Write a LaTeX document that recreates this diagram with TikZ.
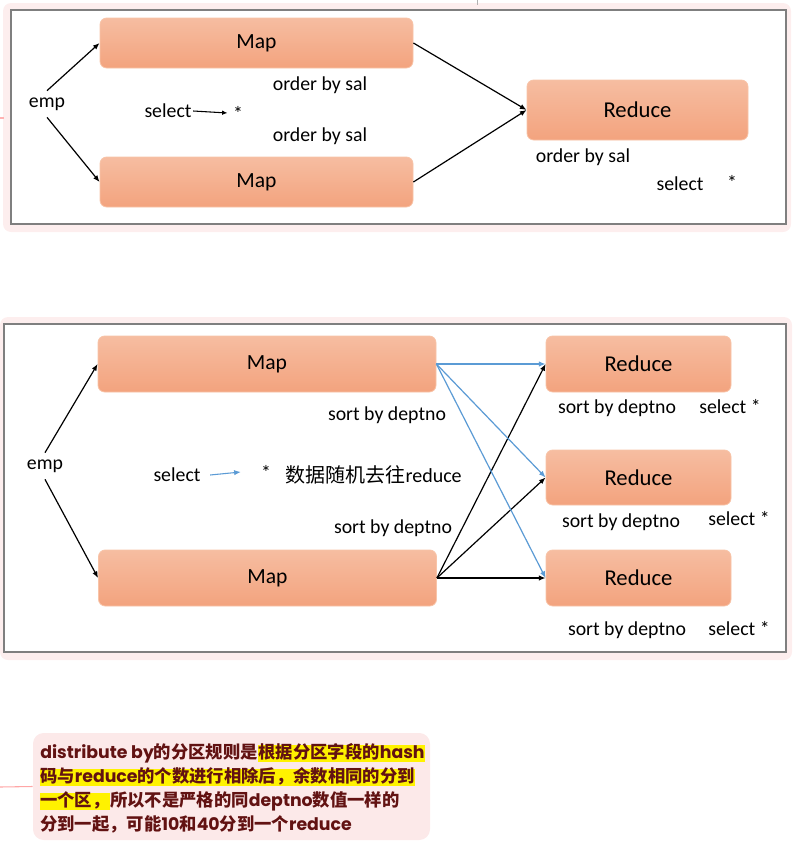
\documentclass[tikz,border=0pt]{standalone}
\usepackage{fontspec}
\setmainfont{Carlito}
\newfontfamily\cjk{Noto Sans CJK SC}
\newfontfamily\notefont{Poppins}
\usetikzlibrary{arrows.meta}
\definecolor{boxtop}{HTML}{F6BDA1}
\definecolor{boxbot}{HTML}{F3A37E}
\definecolor{boxline}{HTML}{F8C4A8}
\definecolor{panel}{HTML}{FDEEEE}
\definecolor{frame}{HTML}{7F7F7F}
\definecolor{flow}{HTML}{5B9BD5}
\definecolor{notebg}{HTML}{FCE9E9}
\definecolor{notetext}{HTML}{621212}

\begin{document}
\begin{tikzpicture}[x=0.75pt,y=-0.75pt,
    box/.style={draw=boxline, line width=0.6pt, rounded corners=5pt, top color=boxtop, bottom color=boxbot},
    mapbox/.style={box, font=\fontsize{16.2}{18}\selectfont},
    redbox/.style={box, font=\fontsize{17}{20}\selectfont},
    lbl/.style={font=\fontsize{14.85}{17}\selectfont, inner sep=1pt},
    arr/.style={line width=0.9pt, -{Latex[length=5pt,width=4pt]}},
    line/.style={anchor=base west, inner xsep=0pt, inner ysep=0pt, text height=1.0em, text depth=0.32em, text=notetext, font=\fontsize{13}{16}\selectfont\bfseries},
    hl/.style={line, fill=yellow}]
  \useasboundingbox (0,0) rectangle (797,846);

  % top panel
  \fill[panel, rounded corners=6pt] (3,3) rectangle (791,232);
  \draw[frame, fill=white, line width=0.8pt] (11,10) rectangle (786,224);
  \draw[gray!60] (477,0) -- (477,5);
  \draw[red!30, line width=0.8pt] (0,118) -- (4,118);

  \node[mapbox, minimum width=313*0.75pt, minimum height=50*0.75pt] (map1) at (256.5,43) {Map};
  \node[mapbox, minimum width=313*0.75pt, minimum height=50*0.75pt] (map2) at (256.5,182) {Map};
  \node[redbox, minimum width=221*0.75pt, minimum height=60*0.75pt] (red) at (637.5,110) {Reduce};
  \node[lbl, inner sep=5pt] (emp) at (47,104) {emp};

  \draw[arr] (emp.north) -- (map1.west);
  \draw[arr] (emp.south) -- (map2.west);
  \draw[arr] (map1.east) -- (red.west);
  \draw[arr] (map2.east) -- (red.west);

  \node[lbl] (ord1) at (320,85) {order by sal};
  \node[lbl] (ord2) at (320,136) {order by sal};
  \node[lbl] (ord3) at (583,157) {order by sal};
  \node[lbl] (sel1) at (168,111) {select};
  \node[lbl] (star1) at (238,113) {*};
  \draw[line width=0.8pt, -{Latex[length=4pt,width=3.5pt]}] (sel1.east) -- ([xshift=-3pt]star1.west);
  \node[lbl] (sel2) at (680,184) {select};
  \node[lbl] (star2) at (732,182) {*};

  % bottom panel
  \fill[panel, rounded corners=6pt] (0,317) rectangle (792,660);
  \draw[frame, fill=white, line width=0.8pt] (4,324) rectangle (786,652);

  \node[mapbox, minimum width=338*0.75pt, minimum height=56*0.75pt] (bmap1) at (267,364) {Map};
  \node[mapbox, minimum width=338*0.75pt, minimum height=56*0.75pt] (bmap2) at (267.5,578) {Map};
  \node[redbox, minimum width=185*0.75pt, minimum height=56*0.75pt] (bred1) at (638.5,364) {Reduce};
  \node[redbox, minimum width=185*0.75pt, minimum height=55*0.75pt] (bred2) at (638.5,477.5) {Reduce};
  \node[redbox, minimum width=185*0.75pt, minimum height=56*0.75pt] (bred3) at (638.5,578) {Reduce};
  \node[lbl, inner sep=5pt] (bemp) at (45,466) {emp};

  \draw[arr] (bemp.north) -- (bmap1.west);
  \draw[arr] (bemp.south) -- (bmap2.west);
  \foreach \r in {bred1,bred2,bred3} {
    \draw[arr, flow] (bmap1.east) -- (\r.west);
    \draw[arr] (bmap2.east) -- (\r.west);
  }

  \node[lbl] (srt1) at (387,415) {sort by deptno};
  \node[lbl] (srt2) at (393,528) {sort by deptno};
  \node[lbl] (bsel) at (177,475) {select};
  \node[lbl] (bstar) at (266,472) {*};
  \draw[arr, flow, line width=0.8pt] ([xshift=6pt]bsel.east) -- ([xshift=-14pt]bstar.west);
  \node[lbl, anchor=west, font=\fontsize{15}{18}\selectfont] (rand) at (284,475) {{\cjk 数据随机去往}reduce};
  \node[lbl] (rs1) at (617,408) {sort by deptno};
  \node[lbl] (rs2) at (621,522) {sort by deptno};
  \node[lbl] (rs3) at (627,630) {sort by deptno};
  \node[lbl] (rsel1) at (730,407) {select *};
  \node[lbl] (rsel2) at (739,519) {select *};
  \node[lbl] (rsel3) at (739,629) {select *};

  % note
  \node[fill=notebg, rounded corners=8pt, minimum width=397*0.75pt, minimum height=107*0.75pt] (note) at (231.5,786.5) {};
  \draw[red!35, line width=0.8pt] (0,787) -- (note.west);
  \node[line] (l1a) at (40,758) {{\notefont distribute by}{\cjk 的分区规则是}};
  \node[hl] (l1b) at (l1a.base east) {{\cjk 根据分区字段的}{\notefont hash}};
  \node[hl] (l2) at (40,782) {{\cjk 码与}{\notefont reduce}{\cjk 的个数进行相除后，余数相同的分到}};
  \node[hl] (l3a) at (40,806) {{\cjk 一个区，}};
  \node[line] (l3b) at (l3a.base east) {{\cjk 所以不是严格的同}{\notefont deptno}{\cjk 数值一样的}};
  \node[line] (l4) at (40,830) {{\cjk 分到一起，可能}{\notefont 10}{\cjk 和}{\notefont 40}{\cjk 分到一个}{\notefont reduce}};
\end{tikzpicture}
\end{document}
